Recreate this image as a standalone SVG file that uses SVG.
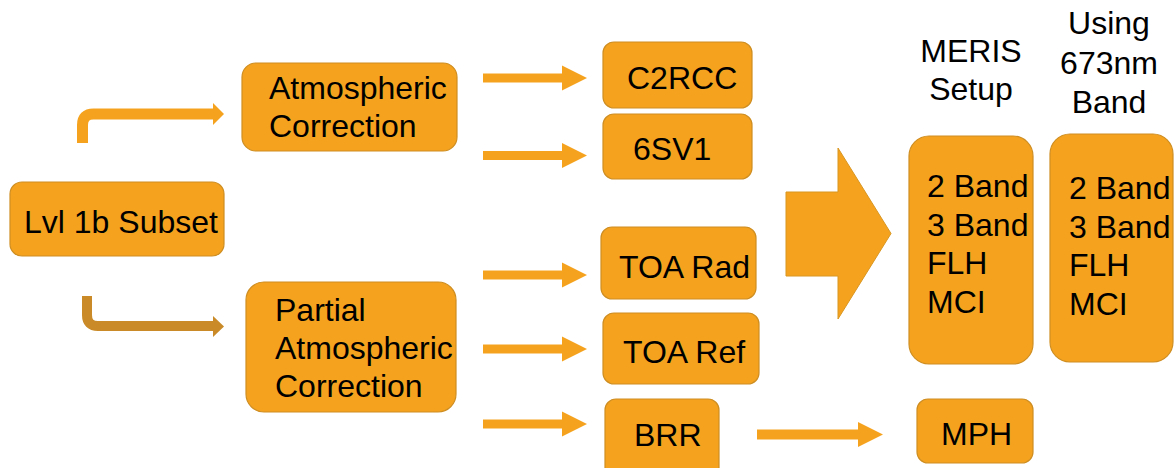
<svg xmlns="http://www.w3.org/2000/svg" width="1176" height="468" viewBox="0 0 1176 468">
<style>
.box{fill:#F5A31F;stroke:#CF8E22;stroke-width:1.2}
.t{font-family:"Liberation Sans",Arial,sans-serif;font-size:32px;fill:#000}
.ar{fill:#F5A31F}
.ar2{fill:#C98A27}
.sh{fill:none;stroke:#F5A31F}
.sh2{fill:none;stroke:#C98A27}
</style>
<defs>
<path id="arr" d="M0,-4.5 H79 V-12.5 L104,0 L79,12.5 V4.5 H0 Z"/>
</defs>
<g id="connectors">
<path class="sh" stroke-width="11" d="M82.5,143 V125 Q82.5,114 93.5,114 H214"/>
<polygon class="ar" points="213,103 224,114 213,125"/>
<path class="sh2" stroke-width="10" d="M87,296 V315 Q87,326 98,326 H214"/>
<polygon class="ar2" points="213,316 224,326.5 213,337"/>
<use href="#arr" class="ar" x="483" y="78"/>
<use href="#arr" class="ar" x="483" y="155.5"/>
<use href="#arr" class="ar" x="483" y="275"/>
<use href="#arr" class="ar" x="483" y="349"/>
<use href="#arr" class="ar" x="483" y="424"/>
<path class="ar" d="M757,429.5 H858 V422 L883,434.5 L858,447 V439.5 H757 Z"/>
<polygon class="ar" stroke="#D99620" stroke-width="1" points="786,192 838,192 838,148 891,233.5 838,319 838,276 786,276"/>
</g>
<g id="lvl1b">
<rect class="box" x="10" y="182" width="214" height="74" rx="12"/>
<text class="t" x="24" y="233">Lvl 1b Subset</text>
</g>
<g id="atmos">
<rect class="box" x="242" y="63" width="215" height="88" rx="14"/>
<text class="t" x="269" y="99">Atmospheric</text>
<text class="t" x="269" y="137">Correction</text>
</g>
<g id="partial">
<rect class="box" x="246" y="282" width="210" height="130" rx="18"/>
<text class="t" x="275" y="321">Partial</text>
<text class="t" x="275" y="359">Atmospheric</text>
<text class="t" x="275" y="397">Correction</text>
</g>
<g id="c2rcc">
<rect class="box" x="603" y="42" width="149" height="66" rx="11"/>
<text class="t" x="627" y="89">C2RCC</text>
</g>
<g id="sv1">
<rect class="box" x="603" y="114" width="149" height="65" rx="11"/>
<text class="t" x="633" y="160">6SV1</text>
</g>
<g id="toarad">
<rect class="box" x="601" y="227" width="155" height="72" rx="11"/>
<text class="t" x="619" y="278">TOA Rad</text>
</g>
<g id="toaref">
<rect class="box" x="603" y="313" width="156" height="71" rx="11"/>
<text class="t" x="623" y="363">TOA Ref</text>
</g>
<g id="brr">
<rect class="box" x="605" y="399" width="114" height="80" rx="11"/>
<text class="t" x="634" y="446">BRR</text>
</g>
<g id="mph">
<rect class="box" x="917" y="399" width="116" height="64" rx="11"/>
<text class="t" x="941" y="445">MPH</text>
</g>
<g id="meris">
<text class="t" x="971" y="62" text-anchor="middle">MERIS</text>
<text class="t" x="971" y="100" text-anchor="middle">Setup</text>
<rect class="box" x="909" y="136" width="124" height="228" rx="20"/>
<text class="t" x="927" y="197">2 Band</text>
<text class="t" x="927" y="236">3 Band</text>
<text class="t" x="927" y="274">FLH</text>
<text class="t" x="927" y="313">MCI</text>
</g>
<g id="using673">
<text class="t" x="1109" y="34" text-anchor="middle">Using</text>
<text class="t" x="1109" y="74" text-anchor="middle">673nm</text>
<text class="t" x="1109" y="113" text-anchor="middle">Band</text>
<rect class="box" x="1050" y="134" width="123" height="228" rx="20"/>
<text class="t" x="1069" y="199">2 Band</text>
<text class="t" x="1069" y="238">3 Band</text>
<text class="t" x="1069" y="276">FLH</text>
<text class="t" x="1069" y="315">MCI</text>
</g>
</svg>
